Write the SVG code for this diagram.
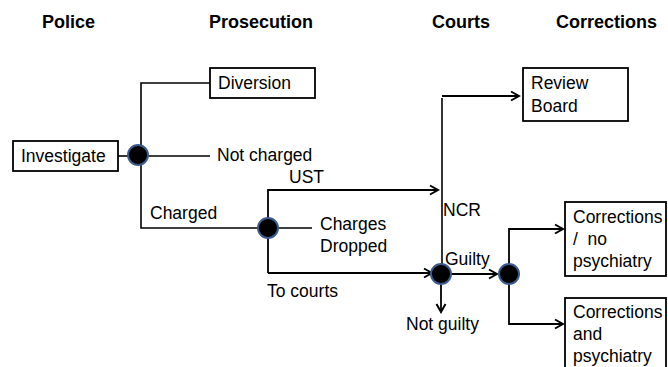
<svg xmlns="http://www.w3.org/2000/svg" width="668" height="367" viewBox="0 0 668 367">
<defs>
<marker id="arr" markerUnits="userSpaceOnUse" markerWidth="12" markerHeight="12" viewBox="0 0 12 12" refX="10" refY="6" orient="auto">
<path d="M2,1.5 L10,6 L2,10.5" fill="none" stroke="#000" stroke-width="2"/>
</marker>
</defs>
<style>
text{font-family:"Liberation Sans",Arial,sans-serif;font-size:17.5px;fill:#000;white-space:pre}
.hdr{font-weight:bold;font-size:18px}
.box{fill:#fff;stroke:#000;stroke-width:1.8}
.ln{fill:none;stroke:#000;stroke-width:1.6}
.ar{fill:none;stroke:#000;stroke-width:1.8;marker-end:url(#arr)}
.dot{fill:#000;stroke:#3b5b8c;stroke-width:2}
</style>
<rect width="668" height="367" fill="#fff"/>
<g id="headers">
<text class="hdr" x="42" y="28">Police</text>
<text class="hdr" x="209" y="28">Prosecution</text>
<text class="hdr" x="432" y="28">Courts</text>
<text class="hdr" x="556" y="28">Corrections</text>
</g>
<g id="connectors">
<path class="ln" d="M118,156 H128"/>
<path class="ln" d="M210,83 H141 V228 H258"/>
<path class="ln" d="M148,156 H210"/>
<path class="ar" d="M268,273 V190 H438"/>
<path class="ln" d="M278,228 H312"/>
<path class="ar" d="M268,273 H432"/>
<path class="ln" d="M442,264 V98"/>
<path class="ar" d="M442,96 H519"/>
<path class="ar" d="M451,274 H497"/>
<path class="ar" d="M441,284 V312"/>
<path class="ar" d="M509,264 V229 H563"/>
<path class="ar" d="M509,284 V324 H563"/>
</g>
<g id="investigate">
<rect class="box" x="13" y="141" width="105" height="30"/>
<text x="21" y="162">Investigate</text>
</g>
<g id="node1"><circle class="dot" cx="138" cy="155" r="10"/></g>
<g id="diversion">
<rect class="box" x="210" y="68" width="105" height="30"/>
<text x="218" y="89">Diversion</text>
</g>
<g id="not-charged"><text x="217" y="161">Not charged</text></g>
<g id="charged"><text x="150" y="219">Charged</text></g>
<g id="node2"><circle class="dot" cx="268" cy="228" r="10"/></g>
<g id="ust"><text x="289" y="183">UST</text></g>
<g id="charges-dropped">
<text x="320" y="230">Charges</text>
<text x="320" y="252">Dropped</text>
</g>
<g id="to-courts"><text x="267" y="297">To courts</text></g>
<g id="ncr"><text x="443" y="216">NCR</text></g>
<g id="review-board">
<rect class="box" x="523" y="68" width="105" height="53"/>
<text x="531" y="89">Review</text>
<text x="531" y="112">Board</text>
</g>
<g id="node3"><circle class="dot" cx="441" cy="274" r="10"/></g>
<g id="guilty"><text x="445" y="265">Guilty</text></g>
<g id="not-guilty"><text x="406" y="330">Not guilty</text></g>
<g id="node4"><circle class="dot" cx="509" cy="274" r="10"/></g>
<g id="corrections-no">
<rect class="box" x="565" y="202" width="101" height="74"/>
<text x="573" y="223">Corrections</text>
<text x="573" y="245" xml:space="preserve">/  no</text>
<text x="573" y="267">psychiatry</text>
</g>
<g id="corrections-and">
<rect class="box" x="565" y="298" width="101" height="80"/>
<text x="573" y="318">Corrections</text>
<text x="573" y="340">and</text>
<text x="573" y="362">psychiatry</text>
</g>
</svg>
